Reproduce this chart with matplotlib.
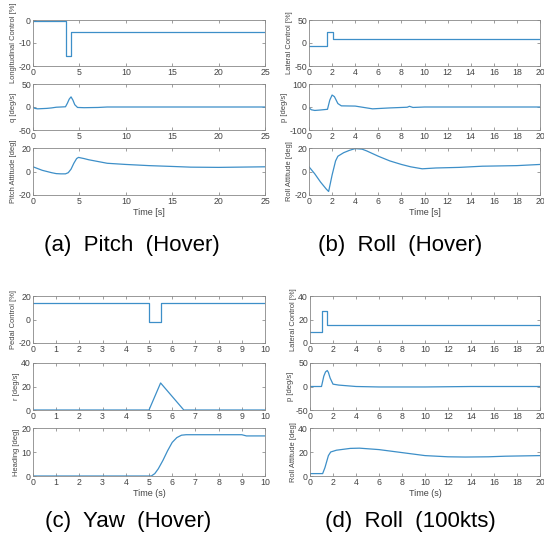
import numpy as np
import matplotlib
matplotlib.use('Agg')
import matplotlib.pyplot as plt

plt.rcParams['font.family'] = ['Liberation Sans', 'DejaVu Sans']
plt.rcParams['axes.unicode_minus'] = False

# (a) Pitch (Hover)
a_ctrl_t = [0, 3.6, 3.6, 4.1, 4.1, 25]
a_ctrl_v = [-0.5, -0.5, -15.5, -15.5, -5.3, -5.3]
a_rate_t = [0, 0.2, 0.5, 1.0, 1.5, 2.0, 2.5, 3.0, 3.5, 3.7, 3.9, 4.1, 4.3, 4.5, 4.8, 5.5, 7.0, 8.0, 25]
a_rate_v = [0, -3, -4, -3.5, -3, -2, -0.5, 0, 0.5, 8, 17, 22, 15, 5, -1, -1.5, -1, 0, 0]
a_att_t = [0, 0.5, 1.0, 1.5, 2.0, 2.5, 3.0, 3.5, 3.8, 4.1, 4.4, 4.7, 4.9, 5.5, 6.0, 7.0, 8.0, 10.0, 12.5, 15.0, 17.0, 20.0, 25.0]
a_att_v = [4, 2.5, 1, 0, -1, -1.8, -2, -2, -1, 2, 7, 11, 12, 11, 10, 8.5, 7, 6, 5, 4.3, 3.7, 3.5, 4]

# (b) Roll (Hover)
b_ctrl_t = [0, 1.6, 1.6, 2.1, 2.1, 20]
b_ctrl_v = [-7, -7, 24, 24, 8, 8]
b_rate_t = [0, 0.2, 0.5, 1.0, 1.6, 1.8, 2.0, 2.2, 2.5, 2.8, 4.0, 5.5, 7.0, 8.5, 8.7, 9.0, 10.0, 20.0]
b_rate_v = [-3, -12, -15, -13, -10, 30, 52, 45, 15, 5, 4, -8, -4, -1, 3, -2, 0, 0]
b_att_t = [0, 0.5, 1.0, 1.5, 1.7, 2.0, 2.3, 2.5, 3.0, 3.5, 4.0, 4.6, 5.0, 6.0, 7.0, 8.0, 8.8, 9.8, 11.0, 13.0, 15.0, 18.0, 20.0]
b_att_v = [4, -2, -9, -15, -17, -3, 9, 13, 16, 18, 19.5, 19, 17.5, 13, 9, 6, 4, 2.3, 3, 3.5, 4.5, 5, 6]

# (c) Yaw (Hover)
c_ctrl_t = [0, 5.0, 5.0, 5.5, 5.5, 10]
c_ctrl_v = [14, 14, -2, -2, 14, 14]
c_rate_t = [0, 5.0, 5.5, 6.5, 10]
c_rate_v = [0, 0, 23, 0, 0]
c_att_t = [0, 5.1, 5.25, 5.4, 5.6, 5.8, 6.0, 6.2, 6.4, 6.6, 9.0, 9.2, 10.0]
c_att_v = [0, 0, 1, 3, 6.5, 10.5, 14, 16, 17, 17.2, 17.2, 16.7, 16.7]

# (d) Roll (100kts)
d_ctrl_t = [0, 1.0, 1.0, 1.5, 1.5, 20]
d_ctrl_v = [9, 9, 27, 27, 15, 15]
d_rate_t = [0, 1.0, 1.2, 1.35, 1.5, 1.6, 1.75, 2.0, 2.5, 3.0, 4.0, 6.0, 10.0, 14.0, 20.0]
d_rate_v = [0, 0, 22, 31, 34, 30, 18, 5, 3, 2, 0, -1, -1, 0, 0]
d_att_t = [0, 1.1, 1.3, 1.45, 1.6, 1.8, 2.3, 3.5, 4.3, 6.0, 8.0, 10.0, 12.0, 13.5, 15.5, 17.0, 20.0]
d_att_v = [2, 2, 7, 12, 17, 20, 21.5, 23, 23.2, 22, 19.5, 17, 16, 15.8, 16, 16.5, 17]

panels = [
    dict(cols=(33, 265), rows=[(20, 66), (84, 130), (148, 195)], xmax=25, xstep=5,
         data=[(a_ctrl_t, a_ctrl_v), (a_rate_t, a_rate_v), (a_att_t, a_att_v)],
         ylims=[(-20, 0), (-50, 50), (-20, 20)],
         yticks=[[-20, -10, 0], [-50, 0, 50], [-20, 0, 20]],
         ylabels=['Longitudinal Control [%]', 'q [deg/s]', 'Pitch Attitude [deg]'],
         xlabel='Time [s]', caption='(a)  Pitch  (Hover)', cap=(132, 246)),
    dict(cols=(309, 540), rows=[(20, 66), (84, 130), (148, 195)], xmax=20, xstep=2,
         data=[(b_ctrl_t, b_ctrl_v), (b_rate_t, b_rate_v), (b_att_t, b_att_v)],
         ylims=[(-50, 50), (-100, 100), (-20, 20)],
         yticks=[[-50, 0, 50], [-100, 0, 100], [-20, 0, 20]],
         ylabels=['Lateral Control [%]', 'p [deg/s]', 'Roll Attitude [deg]'],
         xlabel='Time [s]', caption='(b)  Roll  (Hover)', cap=(400, 246)),
    dict(cols=(33, 265), rows=[(296, 343), (363, 410), (428, 476)], xmax=10, xstep=1,
         data=[(c_ctrl_t, c_ctrl_v), (c_rate_t, c_rate_v), (c_att_t, c_att_v)],
         ylims=[(-20, 20), (0, 40), (0, 20)],
         yticks=[[-20, 0, 20], [0, 20, 40], [0, 10, 20]],
         ylabels=['Pedal Control [%]', 'r [deg/s]', 'Heading [deg]'],
         xlabel='Time (s)', caption='(c)  Yaw  (Hover)', cap=(128, 521)),
    dict(cols=(310, 540), rows=[(296, 343), (363, 410), (428, 476)], xmax=20, xstep=2,
         data=[(d_ctrl_t, d_ctrl_v), (d_rate_t, d_rate_v), (d_att_t, d_att_v)],
         ylims=[(0, 40), (-50, 50), (0, 40)],
         yticks=[[0, 20, 40], [-50, 0, 50], [0, 20, 40]],
         ylabels=['Lateral Control [%]', 'p [deg/s]', 'Roll Attitude [deg]'],
         xlabel='Time (s)', caption='(d)  Roll  (100kts)', cap=(410, 521)),
]

W, H = 544, 536
fig = plt.figure(figsize=(W / 100, H / 100), dpi=100)
line_color = '#3d8fc8'
text_color = '#444444'

for p in panels:
    x0, x1 = p['cols']
    for i, (top, bot) in enumerate(p['rows']):
        ax = fig.add_axes([x0 / W, 1 - bot / H, (x1 - x0) / W, (bot - top) / H])
        t, v = p['data'][i]
        ax.plot(t, v, color=line_color, lw=0.9)
        ax.set_xlim(0, p['xmax'])
        ax.set_ylim(*p['ylims'][i])
        ax.set_xticks(np.arange(0, p['xmax'] + 0.01, p['xstep']))
        ax.set_yticks(p['yticks'][i])
        ax.tick_params(direction='in', top=True, right=True, length=2.5, width=0.5,
                       labelsize=6.3, colors='#777777', labelcolor=text_color, pad=1.5)
        for s in ax.spines.values():
            s.set_color('#888888')
            s.set_linewidth(0.6)
        ax.set_ylabel(p['ylabels'][i], fontsize=5.4, color=text_color, labelpad=1)
        if i == 2:
            ax.set_xlabel(p['xlabel'], fontsize=6.5, color=text_color, labelpad=1.5)
    cx, cy = p['cap']
    fig.text(cx / W, 1 - cy / H, p['caption'], fontsize=16, ha='center', va='center')

fig.savefig('out.png', dpi=100)
